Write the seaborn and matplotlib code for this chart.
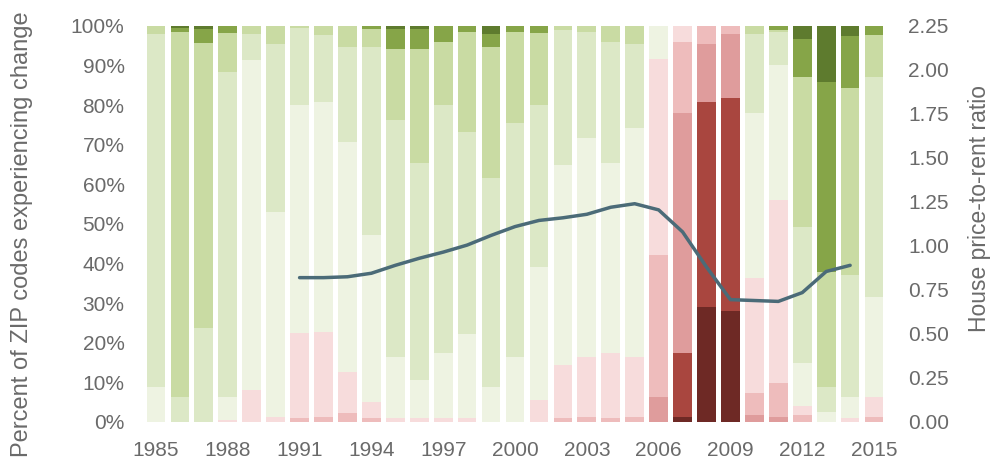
import numpy as np
import pandas as pd
import matplotlib
matplotlib.use("Agg")
import matplotlib.pyplot as plt
import seaborn as sns

# ---------------- data ----------------
years = list(range(1985, 2016))

# share of ZIP codes (%) per price-change bucket, bottom (largest decline) to top (largest gain)
cat_names = ["R5", "R4", "R3", "R2", "R1", "G1", "G2", "G3", "G4", "G5"]
r5 = [0, 0, 0, 0, 0, 0, 0, 0, 0, 0, 0, 0, 0, 0, 0, 0, 0, 0, 0, 0, 0, 0,
      1.3, 29.1, 27.9, 0, 0, 0, 0, 0, 0]
r4 = [0, 0, 0, 0, 0, 0, 0, 0, 0, 0, 0, 0, 0, 0, 0, 0, 0, 0, 0, 0, 0, 0,
      16.0, 51.8, 53.8, 0, 0, 0, 0, 0, 0]
r3 = [0, 0, 0, 0, 0, 0, 0, 0, 0, 0, 0, 0, 0, 0, 0, 0, 0, 0, 0, 0, 0, 6.4,
      60.7, 14.6, 16.3, 1.8, 1.3, 0, 0, 0, 0]
r2 = [0, 0, 0, 0, 0, 0, 0.9, 1.3, 2.2, 1.0, 0, 0, 0, 0, 0, 0, 0, 0.9, 1.3, 1.0, 1.2, 35.8,
      18.0, 4.5, 2.0, 5.4, 8.5, 1.8, 0, 0, 1.3]
r1 = [0, 0, 0, 0.6, 8.1, 1.2, 21.5, 21.5, 10.5, 4.1, 0.9, 0.9, 0.9, 1.0, 0, 0, 5.6, 13.5, 15.2, 16.3, 15.3, 49.4,
      4.0, 0, 0, 29.1, 46.3, 2.2, 0, 0.9, 5.1]
g1 = [8.9, 0, 0, 5.8, 83.3, 51.9, 57.6, 58.1, 58.1, 42.1, 15.6, 9.7, 16.4, 21.2, 8.9, 16.5, 33.6, 50.5, 55.1, 48.0, 57.7, 8.4,
      0, 0, 0, 41.7, 34.1, 11.0, 2.6, 5.5, 25.2]
g2 = [89.0, 6.4, 23.7, 82.1, 6.6, 42.4, 19.5, 16.7, 24.0, 47.6, 59.8, 54.7, 62.8, 51.1, 52.6, 58.9, 40.9, 34.1, 26.9, 30.7, 21.3, 0,
      0, 0, 0, 20.0, 8.4, 34.3, 6.3, 30.7, 55.6]
g3 = [2.1, 92.1, 71.9, 9.7, 2.0, 4.5, 0.5, 2.4, 5.2, 4.4, 17.9, 29.0, 15.9, 25.3, 33.3, 23.2, 18.0, 1.0, 1.5, 4.0, 4.5, 0,
      0, 0, 0, 2.0, 0.5, 37.9, 29.0, 47.2, 10.4]
g4 = [0, 1.0, 3.6, 1.8, 0, 0, 0, 0, 0, 0.8, 5.0, 4.9, 4.0, 1.4, 3.2, 1.4, 1.9, 0, 0, 0, 0, 0,
      0, 0, 0, 0, 0.9, 9.5, 47.9, 13.2, 2.4]
g5 = [0, 0.5, 0.8, 0, 0, 0, 0, 0, 0, 0, 0.8, 0.8, 0, 0, 2.0, 0, 0, 0, 0, 0, 0, 0,
      0, 0, 0, 0, 0, 3.3, 14.2, 2.5, 0]

# house price-to-rent ratio
ratio_years = list(range(1991, 2015))
ratio = [0.82, 0.82, 0.825, 0.845, 0.89, 0.93, 0.965, 1.005, 1.06, 1.11, 1.145, 1.16,
         1.18, 1.22, 1.24, 1.205, 1.08, 0.88, 0.695, 0.69, 0.685, 0.735, 0.855, 0.89]

pct_ticks = [0, 10, 20, 30, 40, 50, 60, 70, 80, 90, 100]
ratio_ticks = [0, 0.25, 0.5, 0.75, 1.0, 1.25, 1.5, 1.75, 2.0, 2.25]
year_ticks = years[::3]

# ---------------- style ----------------
colors = ["#6e2925", "#a9463f", "#df9c9c", "#eebcbc", "#f7dcdc",
          "#eef3e2", "#dce8c6", "#c9dba3", "#86a548", "#5e7b2e"]
txt = "#6a6a6a"

sns.set_theme(style="white")
plt.rcParams['font.family'] = ['Liberation Sans', 'DejaVu Sans']

fig = plt.figure(figsize=(9.95, 4.72), dpi=100)
ax = fig.add_axes([0.1447, 0.106, 0.7458, 0.839])

series = [r5, r4, r3, r2, r1, g1, g2, g3, g4, g5]
cum = np.cumsum(np.array(series, dtype=float), axis=0)

# draw from the top bucket down so that each lower cumulative bar covers the one above
for i in reversed(range(len(series))):
    df = pd.DataFrame({"year": years, "share": cum[i]})
    sns.barplot(data=df, x="year", y="share", color=colors[i], saturation=1,
                native_scale=True, width=0.78, errorbar=None, linewidth=0,
                ax=ax)

ax.set_xlim(1984.5, 2015.5)
ax.set_ylim(0, 100)
ax.set_yticks(pct_ticks)
ax.set_yticklabels([f"{v}%" for v in pct_ticks])
ax.set_xticks(year_ticks)
ax.set_xticklabels([str(y) for y in year_ticks])
ax.set_xlabel("")
ax.set_ylabel("Percent of ZIP codes experiencing change", fontsize=17, color=txt)
ax.yaxis.set_label_coords(-0.1496, 0.475)
ax.tick_params(axis="both", length=0, labelsize=15, colors=txt)
ax.tick_params(axis="y", pad=14)
ax.tick_params(axis="x", pad=14)
for s in ax.spines.values():
    s.set_visible(False)
ax.grid(False)

ax2 = ax.twinx()
line_df = pd.DataFrame({"year": ratio_years, "ratio": ratio})
sns.lineplot(data=line_df, x="year", y="ratio", color="#4b6b78", linewidth=2.5, ax=ax2)
ax2.set_ylim(0, 2.25)
ax2.set_yticks(ratio_ticks)
ax2.set_yticklabels([f"{v:.2f}" for v in ratio_ticks])
ax2.set_ylabel("House price-to-rent ratio", fontsize=16.5, color=txt)
ax2.yaxis.set_label_coords(1.1105, 0.54)
ax2.tick_params(axis="y", length=0, labelsize=15, colors=txt, pad=16)
for s in ax2.spines.values():
    s.set_visible(False)
ax2.grid(False)
ax2.set_xlim(1984.5, 2015.5)

fig.savefig("out.png", dpi=100)
